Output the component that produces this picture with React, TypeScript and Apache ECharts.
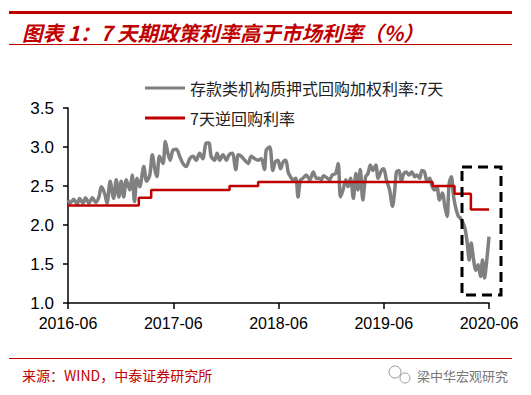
import React, { useEffect, useRef } from "react";
import * as echarts from "echarts";

const titleText = "图表 1：7 天期政策利率高于市场利率（%）";
const sourceText = "来源：WIND，中泰证券研究所";
const watermarkText = "梁中华宏观研究";
const seriesNames = ["存款类机构质押式回购加权利率:7天", "7天逆回购利率"];
const xTickYears = [2016, 2017, 2018, 2019, 2020];
const yTicks = [1.0, 1.5, 2.0, 2.5, 3.0, 3.5];

// 存款类机构质押式回购加权利率:7天
const grayRate: [string, number][] = [
  ["2016-06-01", 2.32], ["2016-06-09", 2.28], ["2016-06-20", 2.33], ["2016-07-02", 2.27],
  ["2016-07-11", 2.34], ["2016-07-23", 2.28], ["2016-08-01", 2.35], ["2016-08-13", 2.28],
  ["2016-08-25", 2.35], ["2016-09-06", 2.29], ["2016-09-17", 2.36], ["2016-09-25", 2.49],
  ["2016-10-06", 2.41], ["2016-10-15", 2.28], ["2016-10-26", 2.56], ["2016-11-07", 2.34],
  ["2016-11-16", 2.58], ["2016-11-25", 2.36], ["2016-12-03", 2.56], ["2016-12-12", 2.36],
  ["2016-12-21", 2.58], ["2017-01-02", 2.45], ["2017-01-11", 2.64], ["2017-01-19", 2.30],
  ["2017-01-28", 2.60], ["2017-02-06", 2.49], ["2017-02-19", 2.75], ["2017-02-28", 2.56],
  ["2017-03-11", 2.64], ["2017-03-20", 2.90], ["2017-03-29", 2.71], ["2017-04-05", 2.62],
  ["2017-04-14", 2.88], ["2017-04-26", 2.79], ["2017-05-04", 3.07], ["2017-05-13", 2.92],
  ["2017-05-21", 2.83], ["2017-05-31", 2.96], ["2017-06-12", 2.97], ["2017-06-23", 2.88],
  ["2017-07-04", 2.79], ["2017-07-16", 2.75], ["2017-07-28", 2.85], ["2017-08-09", 2.88],
  ["2017-08-20", 2.83], ["2017-09-01", 2.92], ["2017-09-12", 2.85], ["2017-09-24", 3.05],
  ["2017-10-03", 3.05], ["2017-10-11", 2.88], ["2017-10-23", 2.83], ["2017-11-01", 2.92],
  ["2017-11-10", 2.83], ["2017-11-21", 2.90], ["2017-12-03", 2.83], ["2017-12-12", 2.90],
  ["2017-12-24", 2.92], ["2018-01-05", 2.71], ["2018-01-14", 2.90], ["2018-01-25", 2.88],
  ["2018-02-05", 2.83], ["2018-02-16", 2.79], ["2018-02-26", 2.88], ["2018-03-10", 2.85],
  ["2018-03-21", 2.83], ["2018-04-02", 2.85], ["2018-04-13", 2.71], ["2018-04-19", 2.96],
  ["2018-05-01", 3.00], ["2018-05-12", 2.70], ["2018-05-21", 2.81], ["2018-05-30", 2.83],
  ["2018-06-08", 2.72], ["2018-06-17", 2.81], ["2018-06-26", 2.83], ["2018-07-04", 2.68],
  ["2018-07-12", 2.62], ["2018-07-21", 2.58], ["2018-07-31", 2.60], ["2018-08-08", 2.36],
  ["2018-08-16", 2.57], ["2018-08-25", 2.60], ["2018-09-06", 2.64], ["2018-09-18", 2.58],
  ["2018-09-30", 2.68], ["2018-10-11", 2.60], ["2018-10-20", 2.60], ["2018-10-28", 2.58],
  ["2018-11-05", 2.63], ["2018-11-15", 2.61], ["2018-11-26", 2.58], ["2018-12-05", 2.64],
  ["2018-12-17", 2.66], ["2018-12-26", 2.79], ["2019-01-03", 2.36], ["2019-01-12", 2.45],
  ["2019-01-22", 2.58], ["2019-01-30", 2.49], ["2019-02-07", 2.60], ["2019-02-16", 2.34],
  ["2019-02-24", 2.66], ["2019-03-03", 2.45], ["2019-03-11", 2.71], ["2019-03-20", 2.32],
  ["2019-03-30", 2.62], ["2019-04-07", 2.66], ["2019-04-15", 2.77], ["2019-04-24", 2.70],
  ["2019-05-04", 2.77], ["2019-05-12", 2.60], ["2019-05-24", 2.70], ["2019-06-01", 2.72],
  ["2019-06-10", 2.58], ["2019-06-21", 2.45], ["2019-07-01", 2.24], ["2019-07-09", 2.45],
  ["2019-07-15", 2.68], ["2019-07-24", 2.70], ["2019-08-01", 2.56], ["2019-08-10", 2.66],
  ["2019-08-19", 2.68], ["2019-08-28", 2.64], ["2019-09-07", 2.68], ["2019-09-17", 2.62],
  ["2019-09-25", 2.64], ["2019-10-04", 2.60], ["2019-10-12", 2.70], ["2019-10-21", 2.68],
  ["2019-10-30", 2.56], ["2019-11-08", 2.60], ["2019-11-17", 2.49], ["2019-11-25", 2.45],
  ["2019-12-03", 2.49], ["2019-12-12", 2.32], ["2019-12-22", 2.41], ["2019-12-31", 2.24],
  ["2020-01-08", 2.11], ["2020-01-15", 2.53], ["2020-01-23", 2.62], ["2020-01-31", 2.36],
  ["2020-02-09", 2.19], ["2020-02-16", 2.11], ["2020-02-22", 2.09], ["2020-03-03", 2.02],
  ["2020-03-10", 1.94], ["2020-03-17", 1.77], ["2020-03-24", 1.55], ["2020-03-31", 1.77],
  ["2020-04-07", 1.59], ["2020-04-16", 1.42], ["2020-04-24", 1.49], ["2020-05-02", 1.34],
  ["2020-05-09", 1.55], ["2020-05-16", 1.32], ["2020-05-23", 1.51], ["2020-06-01", 1.85],
];

// 7天逆回购利率 (policy rate changes)
const policyDates = [
  "2016-06-01", "2017-02-03", "2017-03-16", "2017-12-14", "2018-03-22",
  "2019-11-18", "2020-02-03", "2020-03-30", "2020-06-01",
];
const policyRates = [2.25, 2.35, 2.45, 2.5, 2.55, 2.5, 2.4, 2.2, 2.2];

// months elapsed since 2016-06-01
function toMonth(s: string): number {
  const [y, m, d] = s.split("-").map(Number);
  const dim = new Date(y, m, 0).getDate();
  return (y - 2016) * 12 + (m - 6) + (d - 1) / dim;
}

const RED = "#C00000";
const GRAY = "#808080";

export default function App() {
  const ref = useRef<HTMLDivElement>(null);
  useEffect(() => {
    document.body.style.margin = "0";
    if (!ref.current) return;
    const chart = echarts.init(ref.current, undefined, { renderer: "svg" });
    const axisFont = "'Liberation Sans', Arial, sans-serif";
    const cjk = "'Noto Sans CJK SC', sans-serif";
    chart.setOption({
      animation: false,
      grid: { left: 68, right: 42, top: 108, bottom: 92 },
      legend: {
        orient: "vertical",
        left: 140,
        top: 75,
        icon: "rect",
        itemWidth: 40,
        itemHeight: 3,
        itemGap: 14,
        data: seriesNames,
        textStyle: { fontFamily: cjk, fontSize: 16, color: "#222", lineHeight: 14 },
      },
      xAxis: {
        type: "value",
        min: 0,
        max: 48,
        interval: 12,
        splitLine: { show: false },
        axisLine: { lineStyle: { color: "#000", width: 1.5 } },
        axisTick: { show: true, length: 6, lineStyle: { color: "#000", width: 1.5 } },
        axisLabel: {
          color: "#000",
          fontSize: 16,
          fontFamily: axisFont,
          margin: 12,
          formatter: (v: number) => {
            const i = Math.round(v / 12);
            return `${xTickYears[i]}-06`;
          },
        },
      },
      yAxis: {
        type: "value",
        min: yTicks[0],
        max: yTicks[yTicks.length - 1],
        interval: 0.5,
        splitLine: { show: false },
        axisLine: { show: true, lineStyle: { color: "#000", width: 1.5 } },
        axisTick: { show: true, length: 5, lineStyle: { color: "#000", width: 1.5 } },
        axisLabel: {
          color: "#000",
          fontSize: 17,
          fontFamily: axisFont,
          margin: 14,
          formatter: (v: number) => v.toFixed(1),
        },
      },
      series: [
        {
          name: seriesNames[0],
          type: "line",
          symbol: "none",
          smooth: 0.3,
          lineStyle: { color: GRAY, width: 3.5 },
          itemStyle: { color: GRAY },
          data: grayRate.map(([d, v]) => [toMonth(d), v]),
          z: 2,
        },
        {
          name: seriesNames[1],
          type: "line",
          symbol: "none",
          step: "end",
          lineStyle: { color: RED, width: 2.5 },
          itemStyle: { color: RED },
          data: policyDates.map((d, i) => [toMonth(d), policyRates[i]]),
          z: 3,
        },
      ],
      graphic: [
        { type: "rect", shape: { x: 9, y: 11, width: 503, height: 3 }, style: { fill: RED } },
        { type: "rect", shape: { x: 9, y: 44, width: 503, height: 1 }, style: { fill: RED } },
        {
          type: "text",
          x: 22,
          y: 32,
          style: {
            text: titleText,
            fill: RED,
            font: `italic bold 20.5px ${cjk}`,
            verticalAlign: "middle",
          },
        },
        { type: "rect", shape: { x: 9, y: 358, width: 503, height: 1 }, style: { fill: RED } },
        {
          type: "text",
          x: 22,
          y: 375,
          style: { text: sourceText, fill: RED, font: `14px ${cjk}`, verticalAlign: "middle" },
        },
        {
          type: "text",
          x: 417,
          y: 375,
          style: { text: watermarkText, fill: "#777", font: `13px ${cjk}`, verticalAlign: "middle" },
        },
        { type: "circle", shape: { cx: 395, cy: 372, r: 6 }, style: { fill: "none", stroke: "#999", lineWidth: 1 } },
        { type: "circle", shape: { cx: 405, cy: 378, r: 5 }, style: { fill: "#fff", stroke: "#999", lineWidth: 1 } },
        {
          type: "rect",
          shape: { x: 462, y: 167, width: 39, height: 128 },
          style: { fill: "none", stroke: "#000", lineWidth: 3, lineDash: [10, 6] },
          z: 10,
        },
      ],
    });
    return () => chart.dispose();
  }, []);
  return <div ref={ref} style={{ width: 531, height: 395 }} />;
}
